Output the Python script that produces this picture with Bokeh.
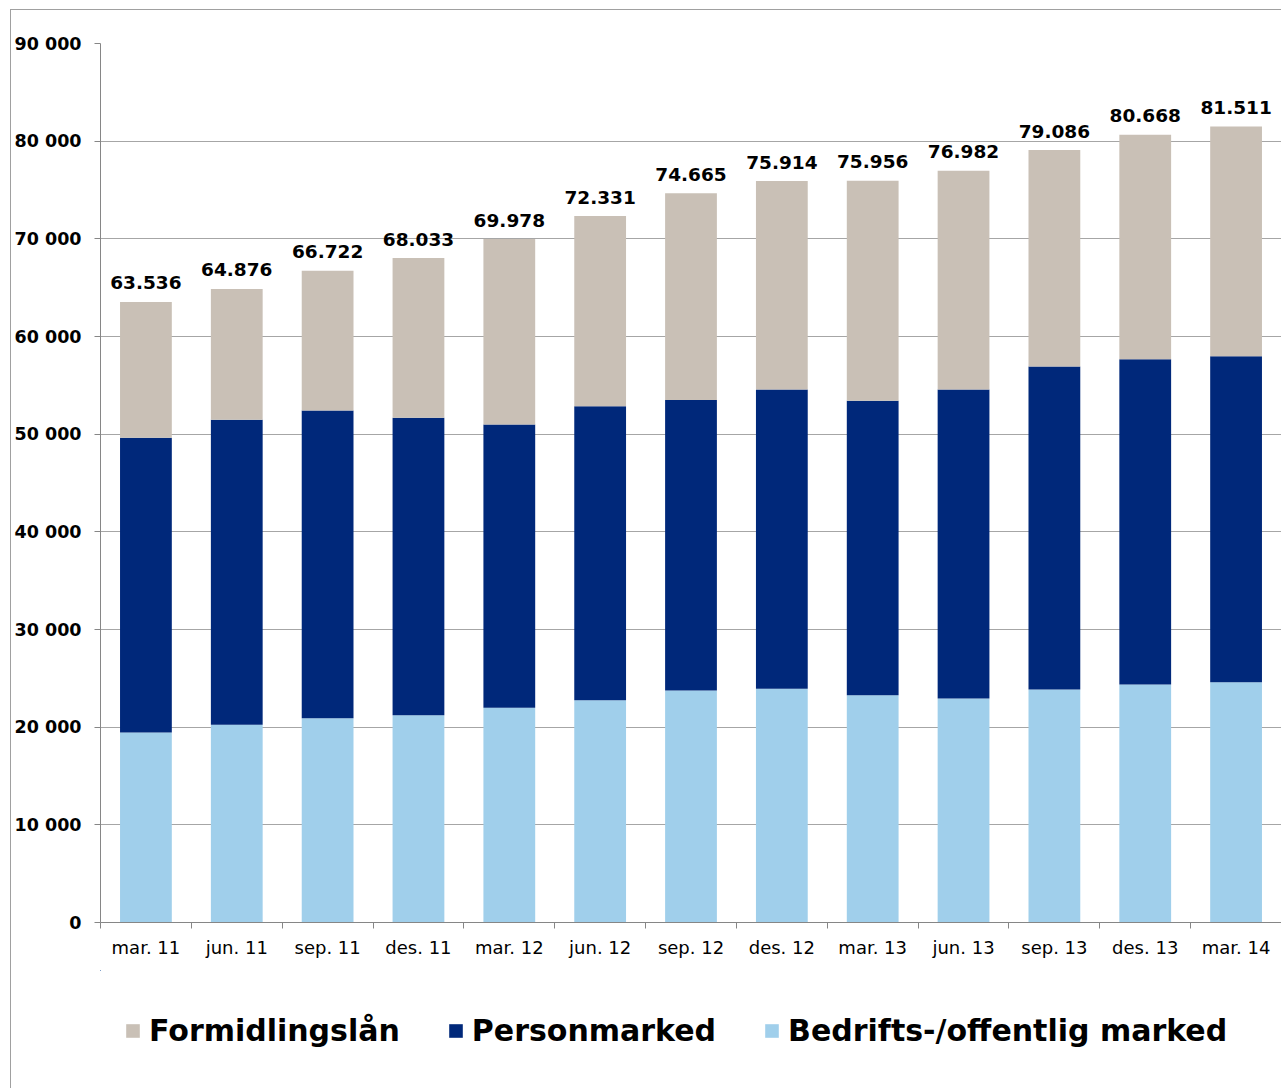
from bokeh.plotting import figure
from bokeh.layouts import column
from bokeh.models import (ColumnDataSource, FixedTicker, Legend, LegendItem,
                          Range1d)
from bokeh.core.properties import value
from bokeh.embed import file_html
from bokeh.resources import INLINE

# ---- data -------------------------------------------------------------
categories = ["mar. 11", "jun. 11", "sep. 11", "des. 11", "mar. 12", "jun. 12",
              "sep. 12", "des. 12", "mar. 13", "jun. 13", "sep. 13", "des. 13",
              "mar. 14"]
bedrifts = [19450, 20240, 20920, 21230, 21980, 22760, 23750, 23930, 23270,
            22930, 23860, 24370, 24600]
personmarked = [30180, 31230, 31500, 30440, 29010, 30100, 29760, 30640, 30140,
                31640, 33070, 33300, 33380]
formidling = [13906, 13406, 14302, 16363, 18988, 19471, 21155, 21344, 22546,
              22412, 22156, 22998, 23531]
total_labels = ["63.536", "64.876", "66.722", "68.033", "69.978", "72.331",
                "74.665", "75.914", "75.956", "76.982", "79.086", "80.668",
                "81.511"]
y_ticks = [0, 10000, 20000, 30000, 40000, 50000, 60000, 70000, 80000, 90000]
series_names = ["Formidlingslån", "Personmarked", "Bedrifts-/offentlig marked"]

# ---- derived table ----------------------------------------------------
xs = list(range(len(categories)))
b_top = bedrifts[:]
p_top = [b + p for b, p in zip(bedrifts, personmarked)]
f_top = [t + f for t, f in zip(p_top, formidling)]
src = ColumnDataSource(dict(x=xs, b0=[0] * len(xs), b1=b_top, p1=p_top,
                            f1=f_top, lab=total_labels))

FONT = "DejaVu Sans"
C_BEIGE = "#C9C0B6"
C_NAVY = "#00287A"
C_LIGHT = "#A0CFEB"
GRID = "#A6A6A6"
AX = "#868686"

p = figure(width=1270, height=960, output_backend="svg", toolbar_location=None,
           x_range=Range1d(-0.5, len(categories) - 0.5),
           y_range=Range1d(0, 90000),
           min_border_left=89, min_border_top=33, min_border_right=0,
           min_border_bottom=48)
p.outline_line_color = None
p.background_fill_color = "white"
p.border_fill_color = "white"

W = 0.57
r_b = p.vbar(x="x", bottom="b0", top="b1", width=W, source=src,
             fill_color=C_LIGHT, line_color=None)
r_p = p.vbar(x="x", bottom="b1", top="p1", width=W, source=src,
             fill_color=C_NAVY, line_color=None)
r_f = p.vbar(x="x", bottom="p1", top="f1", width=W, source=src,
             fill_color=C_BEIGE, line_color=None)

p.text(x="x", y="f1", text="lab", source=src, y_offset=-19,
       text_align="center", text_baseline="alphabetic",
       text_font=value(FONT), text_font_size="18.5px", text_font_style="bold",
       text_color="black")

# axes
p.xgrid.grid_line_color = None
p.ygrid.grid_line_color = GRID
p.ygrid.ticker = FixedTicker(ticks=y_ticks)

p.yaxis.ticker = FixedTicker(ticks=y_ticks)
p.yaxis.major_label_overrides = {v: f"{v:,}".replace(",", " ") for v in y_ticks}
p.yaxis.major_label_text_font = FONT
p.yaxis.major_label_text_font_size = "17.5px"
p.yaxis.major_label_text_font_style = "bold"
p.yaxis.major_label_text_color = "black"
p.yaxis.axis_line_color = AX
p.yaxis.major_tick_line_color = AX
p.yaxis.major_tick_out = 6
p.yaxis.major_tick_in = 0
p.yaxis.minor_tick_line_color = None
p.yaxis.major_label_standoff = 13

p.xaxis.ticker = FixedTicker(ticks=xs,
                             minor_ticks=[i - 0.5 for i in range(len(categories) + 1)])
p.xaxis.major_label_overrides = {i: c for i, c in enumerate(categories)}
p.xaxis.major_label_text_font = FONT
p.xaxis.major_label_text_font_size = "18px"
p.xaxis.major_label_text_color = "black"
p.xaxis.axis_line_color = AX
p.xaxis.major_tick_line_color = None
p.xaxis.major_tick_out = 0
p.xaxis.major_tick_in = 0
p.xaxis.minor_tick_line_color = AX
p.xaxis.minor_tick_out = 6
p.xaxis.minor_tick_in = 0
p.xaxis.major_label_standoff = 8

# ---- legend strip (separate figure below the chart) --------------------
lg = figure(width=1270, height=118, output_backend="svg", toolbar_location=None,
            x_range=Range1d(100, 101), y_range=Range1d(-2, -1),
            min_border=0, min_border_left=0, min_border_right=0,
            min_border_top=0, min_border_bottom=0)
lg.axis.visible = False
lg.grid.visible = False
lg.outline_line_color = None
lg.border_fill_color = "white"
lg.background_fill_color = "white"
# proxies for the legend swatches: same data, lying outside this strip's ranges
g_f = lg.vbar(x="x", bottom="p1", top="f1", width=W, source=src,
              fill_color=C_BEIGE, line_color=None)
g_p = lg.vbar(x="x", bottom="b1", top="p1", width=W, source=src,
              fill_color=C_NAVY, line_color=None)
g_b = lg.vbar(x="x", bottom="b1", top="f1", width=W, source=src,
              fill_color=C_LIGHT, line_color=None)

legend = Legend(items=[LegendItem(label=series_names[0], renderers=[g_f]),
                       LegendItem(label=series_names[1], renderers=[g_p]),
                       LegendItem(label=series_names[2], renderers=[g_b])],
                orientation="horizontal", location=(24, 40),
                label_text_font=FONT, label_text_font_size="30px",
                label_text_font_style="bold", label_text_color="black",
                glyph_width=17, glyph_height=17, label_standoff=8,
                spacing=47, padding=0, margin=0,
                border_line_color=None, background_fill_alpha=0)
lg.add_layout(legend, "center")

layout = column(p, lg, spacing=0)
layout.styles = {"margin-left": "10px", "margin-top": "9px",
                 "border-left": "1px solid #A0A0A0",
                 "border-top": "1px solid #A0A0A0"}

open("out.html", "w").write(file_html(layout, INLINE))
